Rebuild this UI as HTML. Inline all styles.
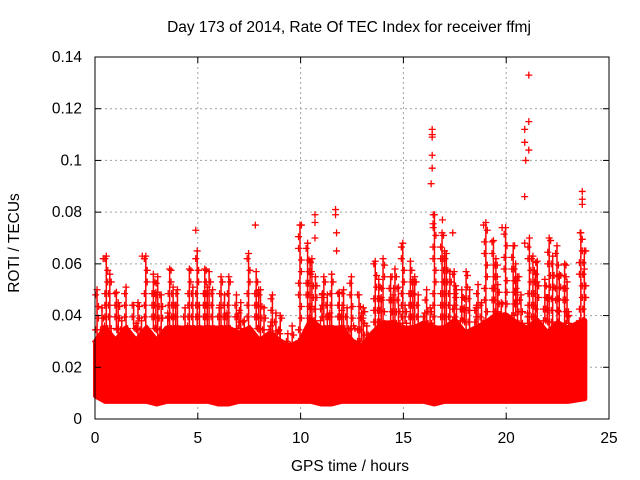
<!DOCTYPE html>
<html><head><meta charset="utf-8"><style>
body{margin:0;background:#fff;}
svg{display:block;font-family:"Liberation Sans",sans-serif;}
</style></head><body>
<svg id="chart" width="640" height="480">
<rect width="640" height="480" fill="#fff"/>
<text x="349" y="32" font-size="15.5" text-anchor="middle" fill="#000">Day 173 of 2014, Rate Of TEC Index for receiver ffmj</text>
<text x="0" y="0" font-size="15.5" text-anchor="middle" transform="translate(19,243) rotate(-90)">ROTI / TECUs</text>
<text x="350" y="471" font-size="15.5" text-anchor="middle">GPS time / hours</text>
<g id="grid"></g><g id="marks"></g><g id="axes"></g>
</svg>
<script>
const times=[0,0.5,1,1.5,2,2.5,3,3.5,4,4.5,5,5.5,6,6.5,7,7.5,8,8.5,9,9.5,10,10.5,11,11.5,12,12.5,13,13.5,14,14.5,15,15.5,16,16.5,17,17.5,18,18.5,19,19.5,20,20.5,21,21.5,22,22.5,23,23.5];
const coreTop=[0.03,0.035,0.03,0.035,0.03,0.035,0.03,0.035,0.035,0.035,0.035,0.035,0.035,0.035,0.033,0.035,0.03,0.033,0.03,0.028,0.03,0.038,0.035,0.035,0.035,0.03,0.028,0.033,0.037,0.037,0.035,0.035,0.037,0.035,0.035,0.038,0.033,0.035,0.037,0.04,0.04,0.037,0.035,0.038,0.033,0.037,0.035,0.038];
const coreBottom=[0.009,0.007,0.007,0.007,0.007,0.007,0.006,0.007,0.007,0.007,0.007,0.007,0.006,0.006,0.007,0.007,0.007,0.007,0.007,0.007,0.007,0.007,0.006,0.006,0.007,0.007,0.007,0.007,0.007,0.007,0.007,0.007,0.007,0.006,0.007,0.007,0.007,0.007,0.007,0.007,0.007,0.007,0.007,0.007,0.007,0.007,0.007,0.008];
const peaks=[0.05,0.063,0.045,0.051,0.045,0.063,0.055,0.058,0.05,0.058,0.065,0.057,0.055,0.055,0.045,0.064,0.05,0.048,0.04,0.036,0.075,0.062,0.055,0.056,0.05,0.055,0.043,0.061,0.062,0.058,0.068,0.055,0.05,0.079,0.064,0.057,0.057,0.052,0.076,0.052,0.074,0.055,0.07,0.061,0.07,0.067,0.04,0.072];
const outT=[16.4,16.4,16.4,16.4,16.4,16.35,16.45,16.45,16.9,17.4,20.9,20.9,20.95,20.9,20.9,21.1,21.1,21.1,23.7,23.7,23.7,11.7,11.7,11.75,11.75,10.7,10.7,10.7,4.9,7.8,18.9,19.8,0.4,2.3,23.6];
const outV=[0.112,0.110,0.109,0.102,0.097,0.091,0.079,0.074,0.077,0.072,0.112,0.107,0.1,0.086,0.068,0.133,0.115,0.104,0.088,0.085,0.083,0.081,0.079,0.072,0.065,0.079,0.076,0.07,0.073,0.075,0.075,0.074,0.062,0.063,0.072];
const xTicks=[0,5,10,15,20,25];
const yTicks=[0,0.02,0.04,0.06,0.08,0.1,0.12,0.14];
const yTickLabels=["0","0.02","0.04","0.06","0.08","0.1","0.12","0.14"];

const L=95,R=609,B=419,T=57,NS="http://www.w3.org/2000/svg";
const X=t=>L+(t/25)*(R-L), Y=v=>B-(v/0.14)*(B-T);
function mk(tag,attrs,parent){const e=document.createElementNS(NS,tag);for(const k in attrs)e.setAttribute(k,attrs[k]);parent.appendChild(e);return e;}
const grid=document.getElementById('grid'),marks=document.getElementById('marks'),axes=document.getElementById('axes');
xTicks.forEach(t=>{
  if(t>0&&t<25){const g=mk('line',{x1:X(t),x2:X(t),y1:T,y2:B,stroke:'#a0a0a0','stroke-dasharray':'2,3'},grid);
  
  }
  const l=mk('text',{x:X(t),y:B+24,'font-size':15.5,'text-anchor':'middle'},axes);l.textContent=t;
  
  
  mk('line',{x1:X(t),x2:X(t),y1:B,y2:B-6,stroke:'#000'},axes);
  mk('line',{x1:X(t),x2:X(t),y1:T,y2:T+6,stroke:'#000'},axes);
});
yTicks.forEach((v,i)=>{
  if(v>0&&v<0.14){const g=mk('line',{x1:L,x2:R,y1:Y(v),y2:Y(v),stroke:'#a0a0a0','stroke-dasharray':'2,3'},grid);
  
  }
  const l=mk('text',{x:L-13,y:Y(v)+5,'font-size':15.5,'text-anchor':'end'},axes);l.textContent=yTickLabels[i];
  
  
  mk('line',{x1:L,x2:L+6,y1:Y(v),y2:Y(v),stroke:'#000'},axes);
  mk('line',{x1:R,x2:R-6,y1:Y(v),y2:Y(v),stroke:'#000'},axes);
});
const frame=mk('rect',{x:L,y:T,width:R-L,height:B-T,fill:'none',stroke:'#000'},axes);


function cross(t,v,name){const x=X(t),y=Y(v);
  const p=mk('path',{d:`M${x-3.5},${y}H${x+3.5}M${x},${y-3.5}V${y+3.5}`,stroke:'#f00','stroke-width':1.3},marks);
  
  }
let d='';
times.forEach((t,i)=>{const tt=i===times.length-1?23.8:t;d+=(i?'L':'M')+X(Math.max(tt,0.05))+','+Y(coreTop[i]);});
for(let i=times.length-1;i>=0;i--){const tt=i===times.length-1?23.8:times[i];d+='L'+X(Math.max(tt,0.05))+','+Y(coreBottom[i]);}
const core=mk('path',{d:d+'Z',fill:'#f00',stroke:'#f00','stroke-width':6,'stroke-linejoin':'round'},marks);


times.forEach((t,i)=>{
  const offs=[-0.15,0.1,0.3];
  offs.forEach((o,k)=>{
    const tt=Math.min(Math.max(t+0.2+o+((i*7+k*3)%5-2)*0.04,0.1),23.8);
    const top=peaks[i]-k*0.007;
    const ln=mk('line',{x1:X(tt),x2:X(tt),y1:Y(coreTop[i]),y2:Y(top),stroke:'#f00','stroke-width':1.5},marks);
    
    
    for(let v=coreTop[i];v<=top;v+=0.0045)cross(tt+(Math.round(v*1000)%2?0.07:-0.07),v,'roti-point');
    cross(tt,top,'roti-point');
  });
});
outT.forEach((t,i)=>cross(t,outV[i],'roti-outlier'));
</script>
</body></html>
